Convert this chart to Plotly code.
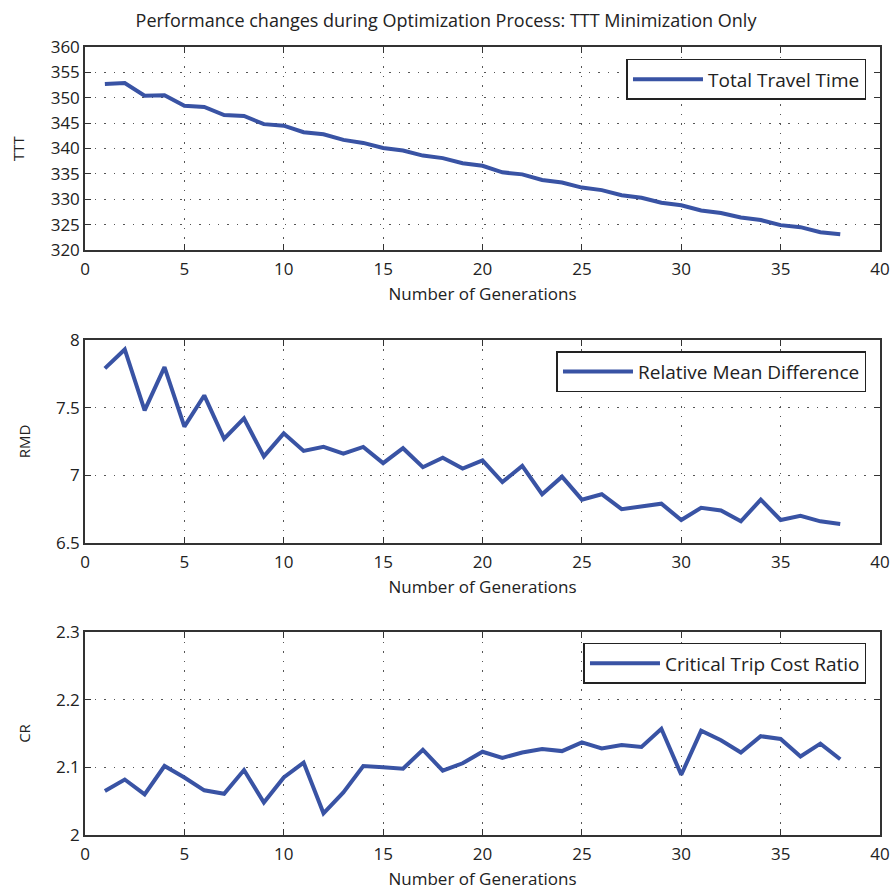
import plotly.graph_objects as go
from plotly.subplots import make_subplots

generations = list(range(1, 39))
ttt = [352.7, 352.9, 350.4, 350.5, 348.4, 348.2, 346.6, 346.4, 344.8, 344.5,
       343.2, 342.8, 341.7, 341.1, 340.1, 339.6, 338.6, 338.1, 337.1, 336.6,
       335.3, 334.9, 333.8, 333.3, 332.3, 331.8, 330.8, 330.3, 329.3, 328.8,
       327.8, 327.3, 326.4, 325.9, 324.9, 324.5, 323.5, 323.1]
rmd = [7.79, 7.93, 7.48, 7.80, 7.36, 7.59, 7.27, 7.42, 7.14, 7.31,
       7.18, 7.21, 7.16, 7.21, 7.09, 7.20, 7.06, 7.13, 7.05, 7.11,
       6.95, 7.07, 6.86, 6.99, 6.82, 6.86, 6.75, 6.77, 6.79, 6.67,
       6.76, 6.74, 6.66, 6.82, 6.67, 6.70, 6.66, 6.64]
cr = [2.065, 2.082, 2.060, 2.102, 2.085, 2.066, 2.061, 2.096, 2.048, 2.085,
      2.107, 2.032, 2.063, 2.102, 2.100, 2.098, 2.126, 2.095, 2.106, 2.123,
      2.114, 2.122, 2.127, 2.124, 2.137, 2.128, 2.133, 2.130, 2.157, 2.089,
      2.154, 2.140, 2.122, 2.146, 2.142, 2.116, 2.135, 2.112]

series_names = ["Total Travel Time", "Relative Mean Difference", "Critical Trip Cost Ratio"]
y_titles = ["TTT", "RMD", "CR"]
y_ranges = [[320, 360], [6.5, 8], [2.0, 2.3]]
y_dticks = [5, 0.5, 0.1]
x_ticks = [0, 5, 10, 15, 20, 25, 30, 35, 40]
title = "Performance changes during Optimization Process: TTT Minimization Only"

FONT = "Open Sans"
LINE = "#3953A4"
GRID_DASH = "1.5px,8px"

fig = make_subplots(rows=3, cols=1, vertical_spacing=0.1128)
domains = [[0.7424, 1.0], [0.3706, 0.6282], [0.0, 0.2576]]
legend_y = [0.985, 0.614, 0.2437]
data = [ttt, rmd, cr]

for i in range(3):
    lg = "legend" if i == 0 else f"legend{i+1}"
    fig.add_trace(go.Scatter(x=generations, y=data[i], mode="lines",
                             name=series_names[i], legend=lg, showlegend=True,
                             line=dict(color=LINE, width=4)),
                  row=i + 1, col=1)
    fig.update_xaxes(range=[0, 40], tickvals=x_ticks, ticks="inside", ticklen=6,
                     tickcolor="#333", showline=True, linecolor="#333", linewidth=1.5,
                     mirror="allticks", showgrid=True, gridcolor="#555", griddash=GRID_DASH,
                     gridwidth=1, zeroline=False, automargin=False,
                     ticklabelstandoff=3,
                     title=dict(text="Number of Generations", standoff=9,
                                font=dict(size=17, color="#222")),
                     tickfont=dict(size=17, color="#222"),
                     domain=[0, 1], row=i + 1, col=1)
    fig.update_yaxes(range=y_ranges[i], dtick=y_dticks[i], ticks="inside", ticklen=6,
                     tickcolor="#333", showline=True, linecolor="#333", linewidth=1.5,
                     mirror="allticks", showgrid=True, gridcolor="#555", griddash=GRID_DASH,
                     gridwidth=1, zeroline=False, automargin=False,
                     title=dict(text=y_titles[i], standoff=22,
                                font=dict(size=15, color="#222")),
                     tickfont=dict(size=17, color="#222"),
                     domain=domains[i], row=i + 1, col=1)

legend_style = dict(xanchor="right", yanchor="top", x=0.983, itemwidth=70,
                    bgcolor="white", bordercolor="#222", borderwidth=1.5,
                    font=dict(size=19, color="#222", family=FONT))
fig.update_layout(
    width=892, height=891,
    margin=dict(l=85, r=12, t=47, b=56, autoexpand=False),
    paper_bgcolor="white", plot_bgcolor="white",
    showlegend=True,
    font=dict(family=FONT, color="#222"),
    title=dict(text=title, x=0.5, xanchor="center", y=0.977, yanchor="middle",
               font=dict(size=18, color="#222"), automargin=False),
    legend=dict(y=legend_y[0], **legend_style),
    legend2=dict(y=legend_y[1], **legend_style),
    legend3=dict(y=legend_y[2], **legend_style),
)

fig.write_html("out.html", config={"displayModeBar": False},
               post_script="document.body.style.margin='0';document.body.style.overflow='hidden';")
